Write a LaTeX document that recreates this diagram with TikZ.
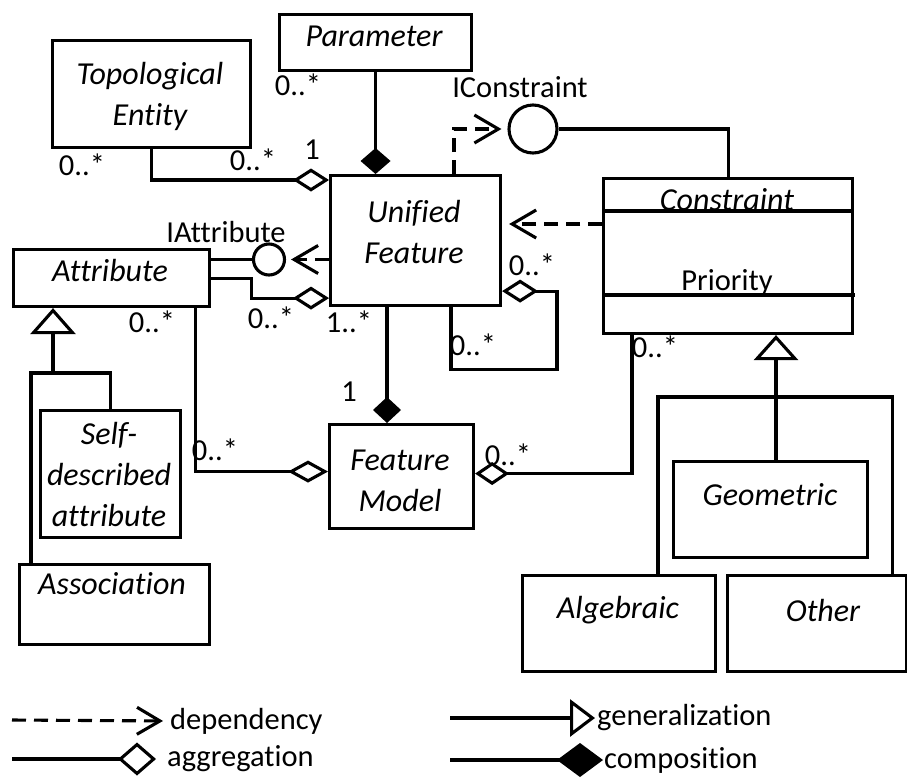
\documentclass[tikz,border=0pt]{standalone}
\usepackage{fontspec}
\setmainfont{Carlito}[Ligatures={NoCommon}]
\usetikzlibrary{arrows.meta, calc}

\begin{document}
\begin{tikzpicture}[
    x=1pt, y=-1pt,
    every node/.style={font=\fontsize{30.5}{41}\selectfont},
    cls/.style={rectangle, draw, line width=3.1pt, anchor=north west, inner sep=0pt},
    clsname/.style={font=\fontsize{32}{41}\selectfont\itshape, align=center, inner sep=0pt},
    plain/.style={inner sep=0pt},
    mult/.style={inner sep=0pt},
    iface/.style={circle, draw, line width=3.1pt, inner sep=0pt},
    conn/.style={line width=3.1pt},
    dep/.style={conn, dash pattern=on 14pt off 8pt, -{Straight Barb[length=24pt, width=28pt]}},
    aggr/.style={conn, -{Diamond[open, length=36pt, width=23pt]}},
    comp/.style={conn, -{Diamond[length=26pt, width=30pt]}},
    gen/.style={conn, -{Triangle[open, length=26pt, width=45pt]}}
  ]
    \useasboundingbox (0,0) rectangle (907,780);

    \node[cls, minimum width=192pt, minimum height=56pt] (param) at (278,13) {};
    \node[cls, minimum width=198pt, minimum height=107pt] (topo) at (51,39) {};
    \node[cls, minimum width=170pt, minimum height=130pt] (uf) at (329,174) {};
    \node[cls, minimum width=249pt, minimum height=155pt] (constr) at (602,177) {};
    \node[cls, minimum width=196pt, minimum height=57pt] (attr) at (12,248) {};
    \node[cls, minimum width=140pt, minimum height=127pt] (selfd) at (39,409) {};
    \node[cls, minimum width=190pt, minimum height=80pt] (assoc) at (18,563) {};
    \node[cls, minimum width=144pt, minimum height=104pt] (fm) at (328,423) {};
    \node[cls, minimum width=194pt, minimum height=96pt] (geom) at (672,460) {};
    \node[cls, minimum width=193pt, minimum height=96pt] (alg) at (521,574) {};
    \node[cls, minimum width=179pt, minimum height=96pt] (other) at (726,574) {};

    \node[clsname] (param-t) at (374,36) {Parameter};
    \node[clsname] (topo-t) at (150,96) {Topological\\Entity};
    \node[clsname] (uf-t) at (414,232) {Unified\\Feature};
    \node[clsname] (constr-t) at (727,200) {Constraint};
    \node[plain] (prio-t) at (727,282) {Priority};
    \node[clsname] (attr-t) at (110,270) {Attribute};
    \node[clsname] (selfd-t) at (109,474) {Self-\\described\\attribute};
    \node[clsname] (assoc-t) at (112,584) {Association};
    \node[clsname] (fm-t) at (400,481) {Feature\\Model};
    \node[clsname] (geom-t) at (770,495) {Geometric};
    \node[clsname] (alg-t) at (618,610) {Algebraic};
    \node[clsname] (other-t) at (823,610) {Other};

    \draw[conn] ($(constr.north west)+(0,34)$) -- ++(249,0);
    \draw[conn] ($(constr.north west)+(0,118)$) -- ++(253,0);

    \node[iface, minimum size=31pt] (iattr) at (269,259.5) {};
    \node[plain] (iattr-t) at (226,232) {IAttribute};
    \node[iface, minimum size=48pt] (iconst) at (533,129) {};
    \node[plain] (iconst-t) at (520,87) {IConstraint};

    \draw[comp] (param.south) -- (param.south |- uf.north);
    \draw[aggr] (topo.south) |- ($(uf.north west)+(0,6)$);
    \draw[conn] (iattr.west -| attr.east) -- (iattr.west);
    \draw[dep, shorten >=5pt] (iattr.east -| uf.west) -- (iattr.east);
    \draw[aggr] (attr.east) -- ++(40,0) |- ($(uf.south west)+(0,-9)$);
    \draw[dep, shorten >=6pt] ($(uf.north west)+(125,0)$) |- (iconst.west);
    \draw[conn] (iconst.east) -| (constr.north);
    \coordinate (cdep) at ($(constr.north west)+(0,47)$);
    \draw[dep, shorten >=7pt] (cdep) -- (cdep -| uf.east);
    \draw[aggr] ($(uf.south west)+(122,0)$) -- ++(0,62) -| ++(106,-78) -- ($(uf.south east)+(0,-16)$);
    \coordinate (ufc) at ($(uf.south west)+(58,0)$);
    \draw[comp, -{Diamond[length=26pt, width=28pt]}] (ufc) -- (ufc |- fm.north);
    \draw[aggr, -{Diamond[open, length=40pt, width=22pt]}] ($(attr.south east)+(-16,0)$) |- ($(fm.west)+(0,-5)$);
    \draw[aggr, -{Diamond[open, length=34pt, width=23pt]}] ($(constr.south west)+(30,0)$) |- ($(fm.east)+(0,-3)$);

    \coordinate (attrjoin) at (53,373);
    \draw[gen] (attrjoin) -- (attrjoin |- attr.south);
    \draw[conn] (selfd.north) |- (attrjoin) -| ($(assoc.north west)+(13,0)$);

    \coordinate (cjoin) at (776,397);
    \draw[gen, -{Triangle[open, length=25pt, width=44pt]}] (cjoin) -- (cjoin |- constr.south);
    \draw[conn] (cjoin) -- (cjoin |- geom.north);
    \draw[conn] ($(alg.north west)+(137,0)$) |- (cjoin) -| ($(other.north east)+(-16,0)$);

    \node[mult] (m-param) at (298,85) {0..*};
    \node[mult] (m-topo) at (82,165) {0..*};
    \node[mult] (m-topo-uf) at (253,160) {0..*};
    \node[mult] (m-uf-topo) at (312,150) {1};
    \node[mult] (m-attr-uf) at (271,318) {0..*};
    \node[mult] (m-attr) at (152,322) {0..*};
    \node[mult] (m-uf-fm) at (349,322) {1..*};
    \node[mult] (m-fm-uf) at (349,392) {1};
    \node[mult] (m-attr-fm) at (215,450) {0..*};
    \node[mult] (m-fm-constr) at (508,455) {0..*};
    \node[mult] (m-self-a) at (532,265) {0..*};
    \node[mult] (m-self-b) at (473,345) {0..*};
    \node[mult] (m-constr) at (655,347) {0..*};

    \coordinate (ldep-s) at (12,720);
    \node[plain, anchor=west] (ldep) at (170,721) {dependency};
    \draw[dep, -{Straight Barb[length=23pt, width=27pt]}, shorten >=7pt] (ldep-s) -- (ldep.west);
    \coordinate (lagg-s) at (12,759);
    \node[plain, anchor=west] (lagg) at (167,759) {aggregation};
    \draw[conn, -{Diamond[open, length=38pt, width=33pt]}, shorten >=11pt] (lagg-s) -- (lagg.west);
    \coordinate (lgen-s) at (450,718);
    \node[plain, anchor=west] (lgen) at (597,718) {generalization};
    \draw[conn, -{Triangle[open, length=25pt, width=37pt]}, shorten >=2pt] (lgen-s) -- (lgen.west);
    \coordinate (lcomp-s) at (450,760);
    \node[plain, anchor=west] (lcomp) at (604,760) {composition};
    \draw[conn, -{Diamond[length=46pt, width=34pt]}, shorten >=1pt] (lcomp-s) -- (lcomp.west);
  \end{tikzpicture}
\end{document}
